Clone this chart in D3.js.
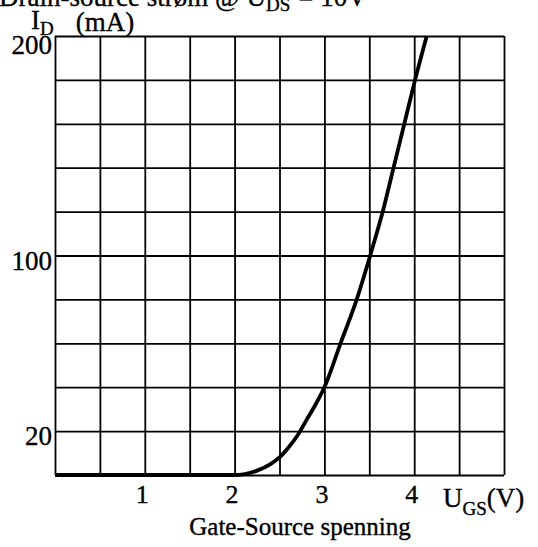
<!DOCTYPE html>
<html>
<head>
<meta charset="utf-8">
<script src="https://cdn.jsdelivr.net/npm/d3@7"></script>
<style>
  html, body { margin: 0; padding: 0; background: #fff; }
  svg { display: block; }
  text { font-family: "Liberation Serif", "Times New Roman", serif; fill: #000; stroke: #000; stroke-width: 0.35px; }
</style>
</head>
<body>
<svg id="chart" width="538" height="547"></svg>
<script>
// ---- data ----
const ugs = [0, 0.5, 1.0, 1.5, 2.0, 2.1, 2.25, 2.4, 2.5, 2.6, 2.7, 2.8, 2.9, 3.0, 3.18, 3.36, 3.51, 3.65, 3.77, 3.89, 4.01, 4.14];
const idValues = [0, 0, 0, 0, 0, 0.3, 2, 5, 8, 12.5, 18, 25, 32, 40, 60, 80, 100, 120, 140, 160, 180, 200];
const xGridValues = [0, 0.5, 1, 1.5, 2, 2.5, 3, 3.5, 4, 4.5, 5];
const yGridValues = [0, 20, 40, 60, 80, 100, 120, 140, 160, 180, 200];
const xTickLabels = [1, 2, 3, 4];
const yTickLabels = [20, 100, 200];

const svg = d3.select("#chart");
const mLeft = 55, mRight = 504, mTop = 36, mBottom = 475;
const x = d3.scaleLinear().domain([0, 5]).range([mLeft, mRight]);
const y = d3.scaleLinear().domain([0, 200]).range([mBottom, mTop]);

// title (clipped at top, as in reference)
const title = svg.append("text").attr("x", -1).attr("y", 6).attr("font-size", 27);
title.append("tspan").text("Drain-source strøm @ U");
title.append("tspan").attr("font-size", 19).attr("dy", 5).text("DS");
title.append("tspan").attr("dy", -5).attr("dx", 8).text("= 10V");

// grid
const gx = svg.append("g").attr("transform", `translate(0,${mBottom})`)
  .call(d3.axisBottom(x).tickValues(xGridValues).tickSize(-(mBottom - mTop)).tickFormat(""));
const gy = svg.append("g").attr("transform", `translate(${mLeft},0)`)
  .call(d3.axisLeft(y).tickValues(yGridValues).tickSize(-(mRight - mLeft)).tickFormat(""));
[gx, gy].forEach(g => {
  g.select(".domain").remove();
  g.selectAll(".tick line").attr("stroke", "#000").attr("stroke-width", 1.8);
});

// tick labels
const lx = svg.append("g").attr("transform", `translate(0,${mBottom})`)
  .call(d3.axisBottom(x).tickValues(xTickLabels).tickSize(0).tickPadding(10).tickFormat(d3.format("d")));
lx.select(".domain").remove();
lx.selectAll("text").attr("font-size", 26).attr("font-family", "Liberation Serif").attr("fill", "#000")
  .attr("dx", -3);

const ly = svg.append("g").attr("transform", `translate(${mLeft},0)`)
  .call(d3.axisLeft(y).tickValues(yTickLabels).tickSize(0).tickPadding(3).tickFormat(d3.format("d")));
ly.select(".domain").remove();
ly.selectAll("text").attr("font-size", 27).attr("font-family", "Liberation Serif").attr("fill", "#000")
  .attr("dy", d => d === 200 ? "0.65em" : "0.5em");

// curve
const line = d3.line().x((d, i) => x(ugs[i])).y(d => y(d)).curve(d3.curveMonotoneX);
svg.append("path").datum(idValues)
  .attr("d", line)
  .attr("fill", "none")
  .attr("stroke", "#000")
  .attr("stroke-width", 3.8)
  .attr("stroke-linejoin", "round");

// y axis label
const yl = svg.append("text").attr("x", 31).attr("y", 29).attr("font-size", 27);
yl.append("tspan").text("I");
yl.append("tspan").attr("font-size", 19).attr("dy", 6).text("D");
yl.append("tspan").attr("dy", -4).attr("dx", 22).text("(mA)");

// x axis label
const xl = svg.append("text").attr("x", 443).attr("y", 507).attr("font-size", 27);
xl.append("tspan").text("U");
xl.append("tspan").attr("font-size", 19).attr("dy", 8).text("GS");
xl.append("tspan").attr("dy", -8).text("(V)");

svg.append("text").attr("x", 300).attr("y", 535).attr("font-size", 25)
  .attr("text-anchor", "middle").text("Gate-Source spenning");
</script>
</body>
</html>
